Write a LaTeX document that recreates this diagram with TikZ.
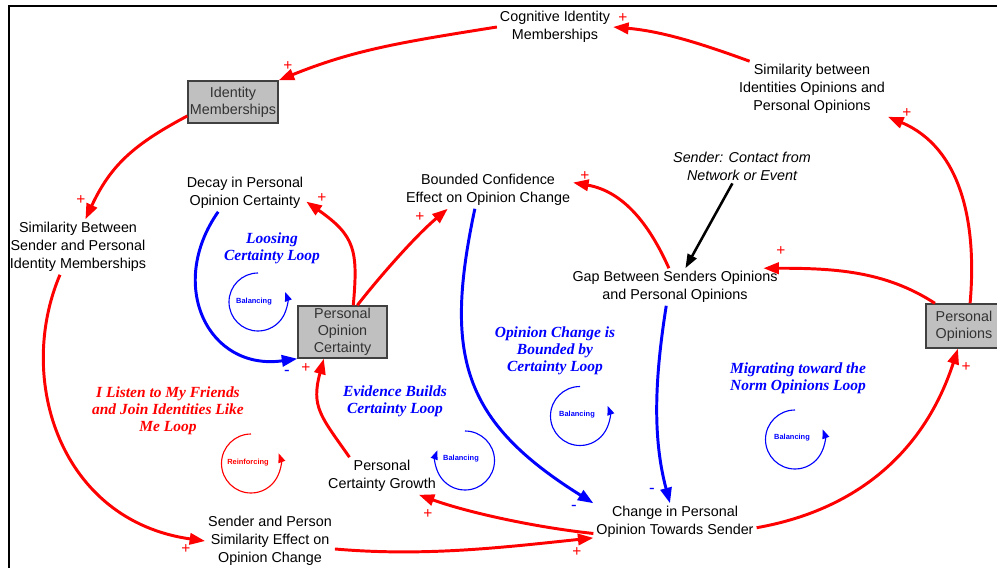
\documentclass[tikz,border=0pt]{standalone}
\usepackage{fontspec}
\setmainfont{Liberation Sans}
\newfontfamily\loopfont{Liberation Serif}
\usepackage{xcolor}
\usetikzlibrary{arrows.meta}

\definecolor{stockfill}{RGB}{192,192,192}
\definecolor{stockline}{RGB}{64,64,64}
\definecolor{stocktext}{RGB}{51,51,51}

\begin{document}
\begin{tikzpicture}[x=0.025cm, y=0.025cm,
    var/.style={align=center, inner sep=2pt, font=\fontsize{10.2}{12.8}\selectfont},
    stock/.style={draw=stockline, fill=stockfill, line width=1pt, align=center, inner sep=0pt, text=stocktext, font=\fontsize{10.2}{12}\selectfont},
    looplabel/.style={align=center, inner sep=1pt, font=\loopfont\bfseries\itshape\fontsize{11}{12.2}\selectfont},
    looptype/.style={inner sep=0pt, font=\bfseries\fontsize{5.3}{6}\selectfont},
    pos link/.style={red, line width=2.1pt, -{Triangle[length=11pt,width=8pt]}},
    neg link/.style={blue, line width=2.1pt, -{Triangle[length=11pt,width=8pt]}},
    loopline/.style={line width=0.8pt, -{Triangle[length=6.5pt,width=5pt]}},
    plus/.style={red, inner sep=0pt, font=\fontsize{11}{11}\selectfont},
    minus/.style={blue, inner sep=0pt, font=\fontsize{12}{12}\selectfont},
  ]

    \path[use as bounding box] (0,0) rectangle (997,-567);
    \clip (0,0) rectangle (997,-567);

    % Draw the frame
    \draw[line width=1.5pt] (9,-580) -- (9,-6) -- (1010,-6);

    % Variables
    \node[var] (cog) at (555,-27) {Cognitive Identity\\Memberships};
    \node[var] (simio) at (812,-89) {Similarity between\\Identities Opinions and\\Personal Opinions};
    \node[var] (simsp) at (78,-247) {Similarity Between\\Sender and Personal\\Identity Memberships};
    \node[var] (decay) at (245,-193) {Decay in Personal\\Opinion Certainty};
    \node[var] (bc) at (488,-190) {Bounded Confidence\\Effect on Opinion Change};
    \node[var, font=\fontsize{10.2}{12.8}\selectfont\itshape] (sender) at (742,-166) {Sender: Contact from\\Network or Event};
    \node[var] (gap) at (675,-287) {Gap Between Senders Opinions\\and Personal Opinions};
    \node[var] (pcg) at (382,-476) {Personal\\Certainty Growth};
    \node[var] (spse) at (270,-541) {Sender and Person\\Similarity Effect on\\Opinion Change};
    \node[var] (cpo) at (675,-522) {Change in Personal\\Opinion Towards Sender};

    % Stocks
    \node[stock, minimum width=2.25cm, minimum height=1.05cm] (idm) at (233,-102) {Identity\\Memberships};
    \node[stock, minimum width=2.225cm, minimum height=1.3cm] (poc) at (342.5,-332) {Personal\\Opinion\\Certainty};
    \node[stock, minimum width=1.9cm, minimum height=1.1cm] (po) at (964,-326) {Personal\\Opinions};

    % Positive links
    \draw[pos link] (simio.156) .. controls +(160:50) and +(-5:50) .. (cog.east);
    \draw[pos link] (cog.west) .. controls +(189:100) and +(22:80) .. (idm.north east);
    \draw[pos link] (idm.197) .. controls +(208:60) and +(65:60) .. (simsp.75);
    \draw[pos link] (simsp.237) .. controls +(247:114) and +(172:146) .. (spse.west);
    \draw[pos link] (spse.-7) .. controls +(-5:90) and +(186:90) .. (cpo.191);
    \draw[pos link] (cpo.188) .. controls +(174:60) and +(-20:50) .. (pcg.-27);
    \draw[pos link] (cpo.-4) .. controls +(10:100) and +(252:110) .. (po.-105);
    \draw[pos link] (po.75) .. controls +(85:80) and +(-23:80) .. (simio.south east);
    \draw[pos link] (po.142) .. controls +(147:60) and +(0:70) .. (gap.12);
    \draw[pos link] (gap.108) .. controls +(114:50) and +(-10:50) .. (bc.5);
    \draw[pos link] (poc.61) .. controls +(52:40) and +(220:40) .. (bc.-155);
    \draw[pos link] (poc.68) .. controls +(85:55) and +(-35:60) .. (decay.-8);
    \draw[pos link] (pcg.150) .. controls +(125:50) and +(255:50) .. (poc.-125);

    % Negative links
    \draw[neg link] (decay.-145) .. controls +(235:90) and +(188:90) .. (poc.south west);
    \draw[neg link] (bc.-125) .. controls +(258:150) and +(148:155) .. (cpo.north west);
    \draw[neg link] (gap.-115) .. controls +(261:70) and +(105:70) .. (cpo.105);

    % Outside input
    \draw[line width=1.8pt, -{Triangle[length=10pt,width=7pt]}] (sender) -- (gap);

    % Polarity signs
    \foreach \x/\y [count=\i] in {623/18, 288/66, 81/200, 186/549, 577/552, 428/514, 966/367, 907/113, 781/251, 585/176, 420/217, 322/198, 306/368}
        \node[plus] (plus\i) at (\x,-\y) {+};
    \foreach \x/\y [count=\i] in {652/491, 574/508, 287/373}
        \node[minus] (minus\i) at (\x,-\y) {-};

    % Loop names
    \node[looplabel, blue] (losing) at (272,-248) {Loosing\\Certainty Loop};
    \node[looplabel, red] (listen) at (168,-411) {I Listen to My Friends\\and Join Identities Like\\Me Loop};
    \node[looplabel, blue] (evidence) at (395,-401) {Evidence Builds\\Certainty Loop};
    \node[looplabel, blue] (bounded) at (555,-351) {Opinion Change is\\Bounded by\\Certainty Loop};
    \node[looplabel, blue] (migrate) at (798,-378) {Migrating toward the\\Norm Opinions Loop};

    % Loop symbols
    \node[looptype, blue] (bal1) at (254,-302) {Balancing};
    \draw[blue, loopline] (258,-273) arc[start angle=90, end angle=380, radius=29];
    \node[looptype, red] (rein) at (248,-463) {Reinforcing};
    \draw[red, loopline] (251,-434) arc[start angle=90, end angle=380, radius=29.5];
    \node[looptype, blue] (bal2) at (461,-459) {Balancing};
    \draw[blue, loopline] (465,-431) arc[start angle=90, end angle=-200, radius=29.5];
    \node[looptype, blue] (bal3) at (577,-415) {Balancing};
    \draw[blue, loopline] (580,-386.5) arc[start angle=90, end angle=380, radius=29.5];
    \node[looptype, blue] (bal4) at (792,-438) {Balancing};
    \draw[blue, loopline] (795,-410) arc[start angle=90, end angle=380, radius=29.5];

\end{tikzpicture}
\end{document}
